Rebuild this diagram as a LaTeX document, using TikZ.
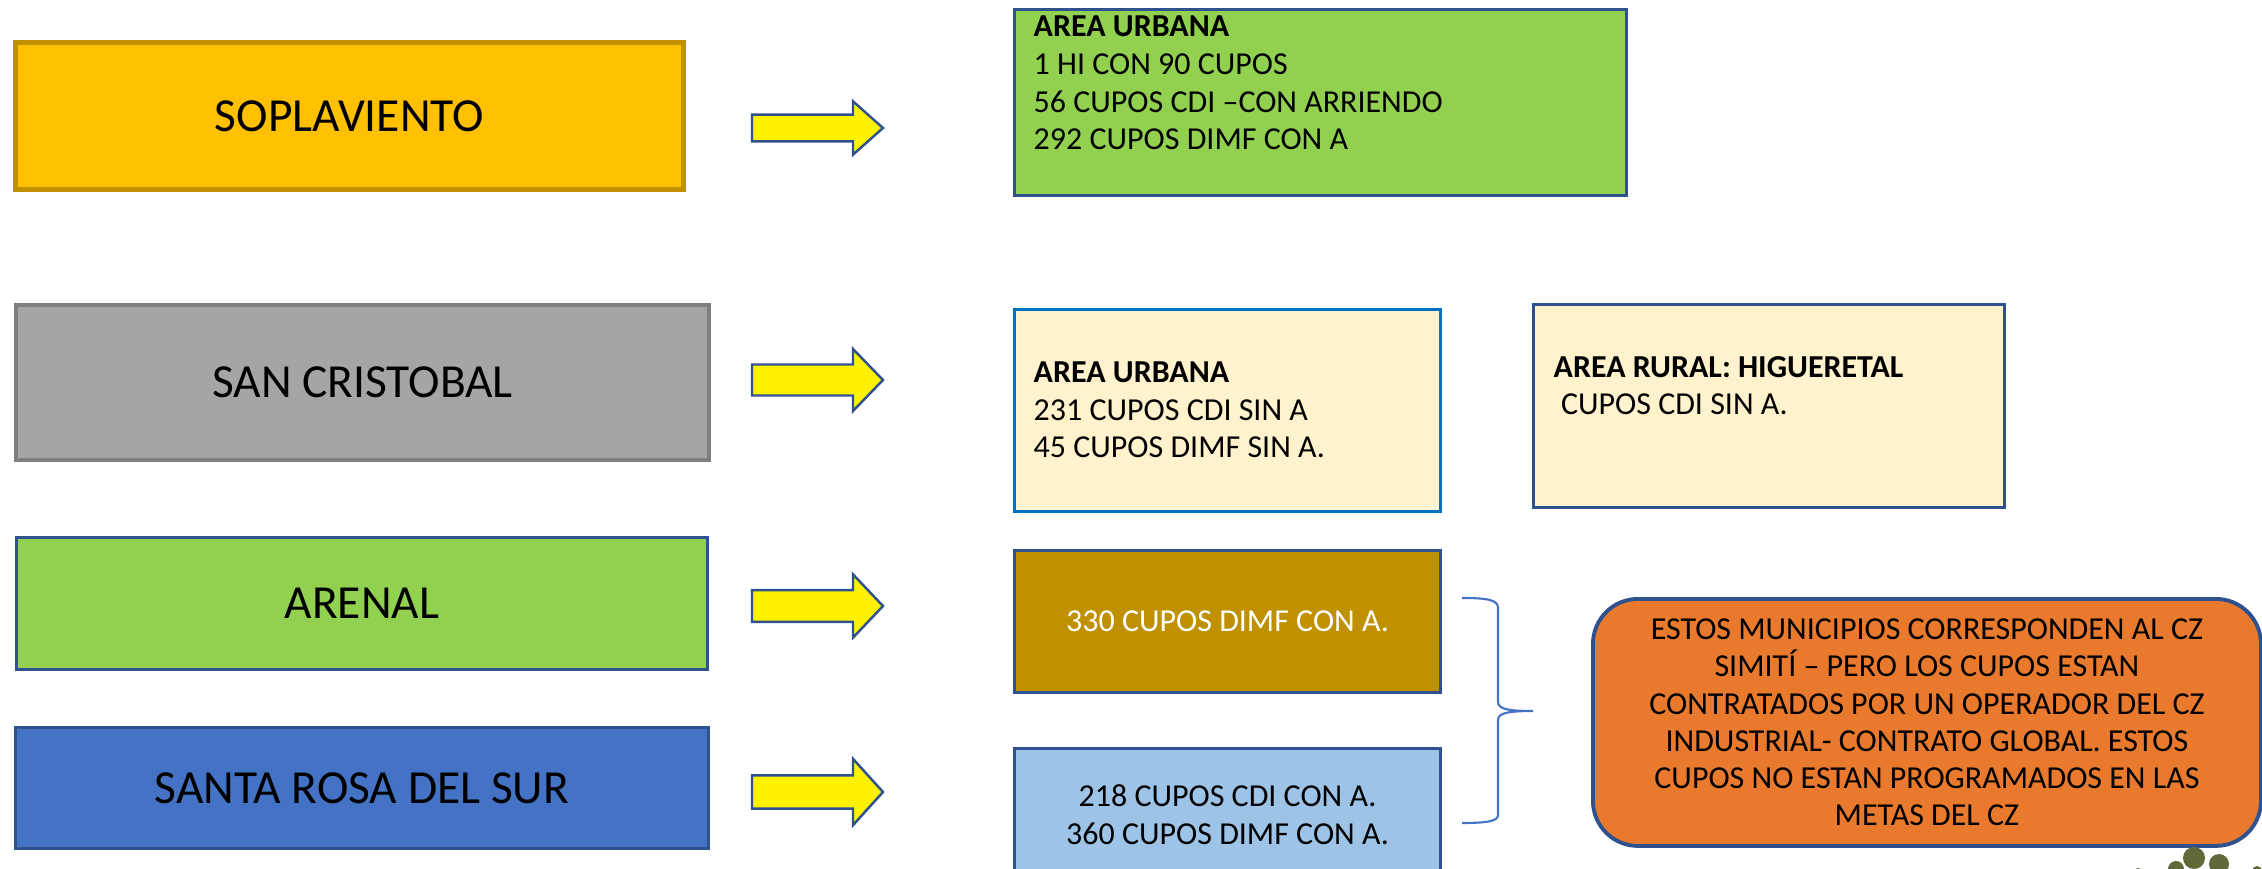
\documentclass[tikz,border=0pt]{standalone}
\usepackage{fontspec}
\setmainfont{Carlito}
\usetikzlibrary{positioning}
\definecolor{goldfill}{HTML}{FFC000}
\definecolor{golddark}{HTML}{BF9000}
\definecolor{grayfill}{HTML}{A5A5A5}
\definecolor{graydark}{HTML}{7F7F7F}
\definecolor{greenfill}{HTML}{92D050}
\definecolor{bluefill}{HTML}{4472C4}
\definecolor{edgeblue}{HTML}{2F528F}
\definecolor{brightblue}{HTML}{0070C0}
\definecolor{creamfill}{HTML}{FFF2CC}
\definecolor{skyfill}{HTML}{9DC3E6}
\definecolor{orangefill}{HTML}{E97A2D}
\definecolor{olive}{HTML}{5F693A}
\tikzset{
  pics/yarrow/.style={code={
    \draw[draw=edgeblue, fill=yellow, line width=0.7pt]
      (0,-15.5) -- (101,-15.5) -- (101,-31) -- (131,0) -- (101,31) -- (101,15.5) -- (0,15.5) -- cycle;
  }}
}
\begin{document}
\begin{tikzpicture}
[x=0.1mm, y=-0.1mm,
muni/.style={draw, anchor=north west, inner sep=0pt, font=\fontsize{13.5}{16}\selectfont},
infobox/.style={draw=edgeblue, line width=0.85pt, anchor=north west, inner sep=0pt, minimum width=42.6mm},
txt/.style={anchor=base west, inner sep=0pt, align=left, font=\fontsize{9.1}{10.8}\selectfont}
]
\clip (0,0) rectangle (2262,869);
\tikzset{every node/.append style={text=black}}
%\tikzset{every node/.style={font=\sffamily}}

% municipios
\node[muni, fill=goldfill, draw=golddark, line width=1.4pt, minimum width=66.8mm, minimum height=14.7mm] (sopl) at (13,40) {SOPLAVIENTO};
\node[muni, fill=grayfill, draw=graydark, line width=1.1pt, minimum width=69.3mm, minimum height=15.5mm] (sancr) at (14,303) {SAN CRISTOBAL};
\node[muni, fill=greenfill, draw=edgeblue, line width=0.8pt, minimum width=69.1mm, minimum height=13.2mm] (arenal) at (15,536) {ARENAL};
\node[muni, fill=bluefill, draw=edgeblue, line width=0.8pt, minimum width=69.3mm, minimum height=12.1mm] (srosa) at (14,726) {SANTA ROSA DEL SUR};

\pic[yscale=0.86] at (752,128) {yarrow};
\pic at (752,380) {yarrow};
\pic[yscale=1.02] at (752,606) {yarrow};
\pic[yscale=1.07] at (752,792) {yarrow};

% cupos (base = last line)
\node[infobox, fill=greenfill, minimum width=61.2mm, minimum height=18.6mm] (urb1) at (1013,8) {};
\node[txt] (urb1txt) at ([shift={(20,142)}]urb1.north west)
    {\textbf{AREA URBANA}\\1 HI CON 90 CUPOS\\56 CUPOS CDI –CON ARRIENDO\\292 CUPOS DIMF CON A};
\node[infobox, draw=brightblue, fill=creamfill, minimum height=20.2mm] (urb2) at (1013,308) {};
\node[txt] (urb2txt) at ([shift={(20,150)}]urb2.north west)
    {\textbf{AREA URBANA}\\231 CUPOS CDI SIN A\\45 CUPOS DIMF SIN A.};
\node[infobox, fill=creamfill, minimum width=47.1mm, minimum height=20.3mm] (rur2) at (1532,303) {};
\node[txt] (rur2txt) at ([shift={(21,112)}]rur2.north west)
    {\textbf{AREA RURAL: HIGUERETAL}\\\hphantom{i}CUPOS CDI SIN A.};
\node[infobox, fill=golddark, minimum height=14.2mm, font=\fontsize{9.1}{10.8}\selectfont, text=white] (dimf3) at (1013,549) {330 CUPOS DIMF CON A.};
\node[infobox, fill=skyfill, minimum height=13.2mm, align=center, font=\fontsize{9.1}{10.8}\selectfont] (cdi4) at (1013,747) {218 CUPOS CDI CON A.\\360 CUPOS DIMF CON A.};

% nota
\node[draw=edgeblue, line width=1.1pt, fill=orangefill, rounded corners=4.5mm, anchor=north west,
      minimum width=66.8mm, minimum height=24.7mm, inner sep=0pt, align=center,
      font=\fontsize{9.1}{10.6}\selectfont] (nota) at (1591,597)
    {ESTOS MUNICIPIOS CORRESPONDEN AL CZ\\SIMITÍ – PERO LOS CUPOS ESTAN\\CONTRATADOS POR UN OPERADOR DEL CZ\\INDUSTRIAL- CONTRATO GLOBAL. ESTOS\\CUPOS NO ESTAN PROGRAMADOS EN LAS\\METAS DEL CZ};

\draw[bluefill, line width=0.6pt]
  (1462,598) .. controls (1488,598) and (1498,600) .. (1498,608)
  -- (1498,702) .. controls (1498,709) and (1508,711) .. (1533,711)
  .. controls (1508,711) and (1498,713) .. (1498,720)
  -- (1498,815) .. controls (1498,821) and (1488,823) .. (1462,823);

\fill[olive] (2194,858) circle (11) (2219,864) circle (10) (2176,869) circle (8)
  (2138,873) circle (5) (2257,871) circle (5);
\end{tikzpicture}
\end{document}
